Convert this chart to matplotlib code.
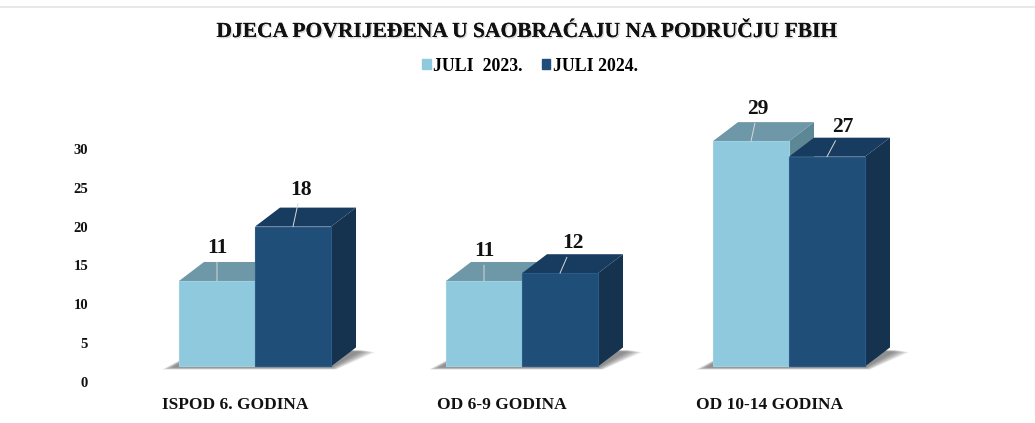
"""Grouped pseudo-3D bar chart: children injured in traffic, FBiH."""

import matplotlib

matplotlib.use("Agg")

import matplotlib.patheffects as pe
import matplotlib.pyplot as plt
import numpy as np
from matplotlib.lines import Line2D
from matplotlib.patches import Patch

title = "DJECA POVRIJEĐENA U SAOBRAĆAJU NA PODRUČJU FBIH"
categories = ["ISPOD 6. GODINA", "OD 6-9 GODINA", "OD 10-14 GODINA"]
series_names = ["JULI  2023.", "JULI 2024."]
values_2023 = [11, 11, 29]
values_2024 = [18, 12, 27]
y_ticks = [0, 5, 10, 15, 20, 25, 30]

# label offsets from the bar's top edge, in pixels
offsets_2023 = [(0, 33), (0, 30), (7, 32)]
offsets_2024 = [(8, 37), (13, 30), (16, 30)]

W, H = 1035, 423
PX_PER_CAT = 267.0
PX_PER_UNIT = 7.77
X0_PX = 255.0  # first group's centre
Y0_PX = 382.0  # where 0 sits
AX_LEFT_PX, AX_TOP_PX = 95.0, 90.0

BASE = 2.0  # the bars float above the zero tick
BAR_W = 76.0 / PX_PER_CAT
DEPTH_X = 25.0 / PX_PER_CAT
DEPTH_Y = 19.0 / PX_PER_UNIT

FONT = "Liberation Serif"
LIGHT = {"front": "#8fc9de", "top": "#6e97a8", "side": "#5c8795", "edge": "#9fd0e2"}
DARK = {"front": "#1f4e79", "top": "#173c60", "side": "#15324f", "edge": "#2a5a85"}


def draw_shadow(ax, x0, x1):
    """Soft floor shadow built from stacked translucent polygons."""
    for k in range(8, 0, -1):
        s = k / 8.0
        ax.fill(
            [
                x0 - (5 + 12 * s) / PX_PER_CAT,
                x1 + (5 * s) / PX_PER_CAT,
                x1 + DEPTH_X + (5 + 14 * s) / PX_PER_CAT,
                x0 + DEPTH_X,
            ],
            [
                BASE - 0.1 - 0.3 * s,
                BASE - 0.1 - 0.3 * s,
                BASE + DEPTH_Y - 0.3 - 0.3 * s,
                BASE + DEPTH_Y,
            ],
            color="#444444",
            alpha=0.1,
            lw=0,
            zorder=1,
        )


def draw_bar(ax, x0, value, colors):
    """Front, top and side faces of one bar."""
    x1 = x0 + BAR_W
    y1 = BASE + value
    ax.fill(
        [x1, x1 + DEPTH_X, x1 + DEPTH_X, x1],
        [BASE, BASE + DEPTH_Y, y1 + DEPTH_Y, y1],
        color=colors["side"],
        lw=0,
        zorder=2,
    )
    ax.fill(
        [x0, x0 + DEPTH_X, x1 + DEPTH_X, x1],
        [y1, y1 + DEPTH_Y, y1 + DEPTH_Y, y1],
        color=colors["top"],
        lw=0,
        zorder=2,
    )
    ax.bar(
        x0,
        value,
        width=BAR_W,
        bottom=BASE,
        align="edge",
        color=colors["front"],
        edgecolor=colors["edge"],
        linewidth=0.8,
        zorder=2,
    )


def draw_label(ax, x, value, offset):
    ax.annotate(
        str(value),
        xy=(x, BASE + value),
        xytext=offset,
        textcoords="offset pixels",
        ha="center",
        va="center",
        fontsize=15.5,
        fontweight="bold",
        fontfamily=FONT,
        color="#111111",
        arrowprops=dict(arrowstyle="-", color="#d9d9d9", lw=0.7, shrinkA=1, shrinkB=0),
        zorder=5,
    )


fig = plt.figure(figsize=(W / 100, H / 100), dpi=100)
ax = fig.add_axes(
    [
        AX_LEFT_PX / W,
        (H - Y0_PX) / H,
        (W - AX_LEFT_PX) / W,
        (Y0_PX - AX_TOP_PX) / H,
    ]
)
ax.set_xlim((AX_LEFT_PX - X0_PX) / PX_PER_CAT, (W - X0_PX) / PX_PER_CAT)
ax.set_ylim(0, (Y0_PX - AX_TOP_PX) / PX_PER_UNIT)

x_pos = np.arange(len(categories), dtype=float)

for i, x in enumerate(x_pos):
    draw_shadow(ax, x - BAR_W, x + BAR_W)
    draw_bar(ax, x - BAR_W, values_2023[i], LIGHT)
    draw_bar(ax, x, values_2024[i], DARK)
    draw_label(ax, x - BAR_W / 2, values_2023[i], offsets_2023[i])
    draw_label(ax, x + BAR_W / 2, values_2024[i], offsets_2024[i])

for side in ax.spines.values():
    side.set_visible(False)

ax.set_yticks(y_ticks)
ax.set_yticklabels(y_ticks, fontsize=10.5, fontweight="bold", fontfamily=FONT, color="#111111")
# category labels sit left of the group centre in the original
ax.set_xticks(x_pos - 20.0 / PX_PER_CAT)
ax.set_xticklabels(categories, fontsize=12.5, fontweight="bold", fontfamily=FONT, color="#111111")
ax.tick_params(axis="y", length=0, pad=5)
ax.tick_params(axis="x", length=0, pad=11)

fig.text(
    0.5077,
    1 - 32.0 / H,
    title,
    ha="center",
    va="center",
    fontsize=15.5,
    fontweight="bold",
    fontfamily=FONT,
    color="#111111",
    path_effects=[
        pe.withSimplePatchShadow(offset=(1, -1), shadow_rgbFace="#777777", alpha=0.3),
        pe.Normal(),
    ],
)

handles = [Patch(color=LIGHT["front"]), Patch(color=DARK["front"])]
fig.legend(
    handles,
    series_names,
    loc="center",
    bbox_to_anchor=(0.512, 1 - 66.0 / H),
    ncol=2,
    frameon=False,
    handlelength=0.5,
    handleheight=0.5,
    handletextpad=0.15,
    columnspacing=1.05,
    prop=dict(family=FONT, weight="bold", size=12.8),
)

fig.add_artist(
    Line2D([0, 1], [1 - 7.0 / H, 1 - 7.0 / H], color="#e4e4e4", lw=1.2, transform=fig.transFigure)
)

fig.savefig("out.png", dpi=100)
plt.close(fig)
